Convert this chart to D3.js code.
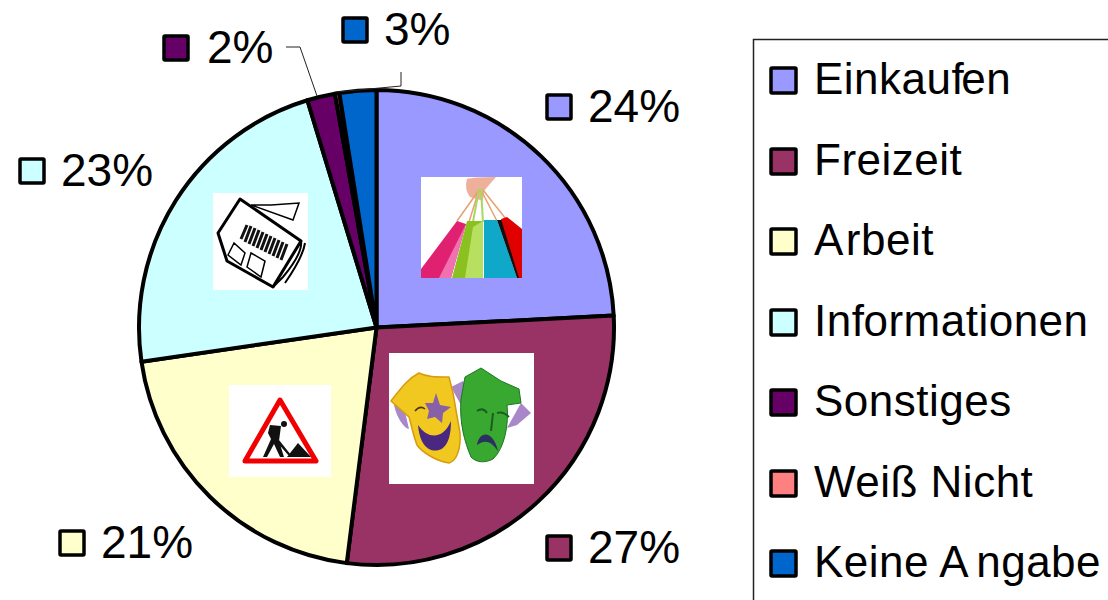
<!DOCTYPE html>
<html><head><meta charset="utf-8">
<script src="https://cdn.jsdelivr.net/npm/d3@7/dist/d3.min.js"></script>
<style>html,body{margin:0;padding:0;background:#fff}svg{display:block}text{font-family:"Liberation Sans",Arial,sans-serif;fill:#000}</style>
</head><body><svg id="c" width="1108" height="600"></svg>
<script>
const categories=["Einkaufen","Freizeit","Arbeit","Informationen","Sonstiges","Weiß Nicht","Keine Angabe"];
const values=[24.2,27.8,20.7,22.6,1.9,0.3,2.5];
const labels=["24%","27%","21%","23%","2%","","3%"];
const colors=["#9999ff","#993366","#ffffcc","#ccffff","#660066","#ff8080","#0066cc"];
const labelAnchors=[[545,93],[545,534],[58,529],[18,157],[162,34],null,[341,16]];
const legendY=[80,161,241,322,402,483,563];

const svg=d3.select("#c");
const cx=376.5,cy=327.5,R=237.5;
const arc=d3.arc().innerRadius(0).outerRadius(R);
const pie=d3.pie().sort(null).value(d=>d)(values);
svg.append("g").attr("transform",`translate(${cx},${cy})`).selectAll("path").data(pie).join("path")
  .attr("d",arc).attr("fill",(d,i)=>colors[i]).attr("stroke","#000").attr("stroke-width",4).attr("stroke-linejoin","round");

// leader lines
const line=d3.line();
svg.append("path").attr("d",line([[286,47],[300,47],[317,96]])).attr("fill","none").attr("stroke","#222").attr("stroke-width",1);
svg.append("path").attr("d",line([[337,92],[401,86],[401,72]])).attr("fill","none").attr("stroke","#222").attr("stroke-width",1);

// data labels
labels.forEach((t,i)=>{
  if(!t)return;
  const [x,y]=labelAnchors[i];
  svg.append("rect").attr("x",x+2).attr("y",y+2).attr("width",24).attr("height",24).attr("rx",1)
    .attr("fill",colors[i]).attr("stroke","#000").attr("stroke-width",3.5);
  svg.append("text").attr("x",x+(i===4?45:43)).attr("y",y+29).attr("font-size",46).text(t);
});

// legend
svg.append("path").attr("d",line([[753.5,600],[753.5,39.5],[1108,39.5]])).attr("fill","none").attr("stroke","#222").attr("stroke-width",1.5);
const legendParts=[["Einkauf","en"],["Freizeit"],["A","rbeit"],["Inf","ormationen"],["Sonstiges"],["Weiß Nicht"],["Keine A","ngabe"]];
const legendGap=[-3,0,2,-1,0,0,7];
categories.forEach((c,i)=>{
  const y=legendY[i];
  svg.append("rect").attr("x",771).attr("y",y-12).attr("width",25).attr("height",25).attr("rx",1)
    .attr("fill",colors[i]).attr("stroke","#000").attr("stroke-width",3.5);
  const t=svg.append("text").attr("x",814).attr("y",y+14).attr("font-size",44).attr("letter-spacing",0.5);
  legendParts[i].forEach((p,k)=>t.append("tspan").attr("dx",k?legendGap[i]:0).text(p));
});

// pictures
function pic(x,y,w,h){return svg.append("g").attr("transform",`translate(${x},${y})`).call(g=>g.append("rect").attr("width",w).attr("height",h).attr("fill","#fff"));}

// shopping bags
const b=pic(421,177,101,101);
b.append("path").attr("d","M46 2 Q52 0 75 0 L68 8 L63 14 L62 24 L56 22 L49 20 Q43 12 46 2Z").attr("fill","#eeb09a");
b.append("path").attr("d","M58 13 L36 44 M58 13 L48 45 M60 13 L76 44 M62 13 L85 42").attr("stroke","#e8a070").attr("stroke-width",1.5).attr("fill","none");
b.append("path").attr("d","M58 12 L52 45 M60 12 L62 45").attr("stroke","#a8d860").attr("stroke-width",2).attr("fill","none");
b.append("path").attr("d","M36 44 L45 47 L30 101 L0 101 L0 92Z").attr("fill","#e02070");
b.append("path").attr("d","M45 47 L30 101 L18 101 Z").attr("fill","#f070b0");
b.append("path").attr("d","M46 44 L62 44 L62 101 L31 101Z").attr("fill","#8ac020");
b.append("path").attr("d","M62 44 L62 101 L44 101 L52 50Z").attr("fill","#b8e060");
b.append("path").attr("d","M63 43 L76 43 L96 101 L63 101Z").attr("fill","#10a8c8");
b.append("path").attr("d","M76 43 L84 43 L101 101 L96 101Z").attr("fill","#111");
b.append("path").attr("d","M80 42 L86 40 L101 52 L101 101 L98 101Z").attr("fill","#e00000");

// theatre masks
const m=pic(389,353,145,131);
m.append("path").attr("d","M5 52 C8 66 16 76 20 76 L14 50Z M62 34 L72 52 L84 42 L74 28Z").attr("fill","#a888c8");
m.append("path").attr("d","M118 75 L128 72 L142 60 L132 50Z").attr("fill","#a888c8");
m.append("path").attr("d","M2 48 C10 38 18 26 30 20 C38 24 46 24 60 24 L64 40 L71 80 C72 95 68 108 60 110 C46 108 32 98 28 92 C24 82 22 70 20 64 Z").attr("fill","#f0c820").attr("stroke","#d89a10").attr("stroke-width",1.5).attr("stroke-linejoin","round");
m.append("path").attr("d","M47 40 L51 52 L62 54 L54 60 L53 70 L46 64 L38 66 L40 58 L36 50 L44 50Z").attr("fill","#8860a8");
m.append("path").attr("d","M29 72 C40 88 55 85 62 68 C62 90 55 100 42 97 C34 94 30 84 29 72Z").attr("fill","#4a2880");
m.append("path").attr("d","M26 58 Q31 52 36 56 ").attr("fill","none").attr("stroke","#503010").attr("stroke-width",1.5);
m.append("path").attr("d","M76 24 L92 15 L112 28 L130 36 L132 50 L118 52 C120 70 116 95 104 106 C96 110 88 110 82 104 C76 90 70 70 72 46 Z").attr("fill","#38a830").attr("stroke","#1c7820").attr("stroke-width",1).attr("stroke-linejoin","round");
m.append("path").attr("d","M88 92 C90 78 104 76 109 98 C102 88 96 86 88 92Z").attr("fill","#2c3060");
m.append("path").attr("d","M88 58 Q94 54 98 60 M108 60 Q114 58 120 64 M104 60 L102 78").attr("fill","none").attr("stroke","#1c5c20").attr("stroke-width",2);

// newspaper
const n=pic(213,193,95,97);
n.append("path").attr("d","M38 12 L80 27 L86 10 L58 12Z").attr("fill","#fff").attr("stroke","#000").attr("stroke-width",1.5);
n.append("path").attr("d","M5 40 L27 6 L88 48 L60 94 L14 68 Z").attr("fill","#fff").attr("stroke","#000").attr("stroke-width",3).attr("stroke-linejoin","round");
n.append("path").attr("d","M34 32 L28 46 M38 33 L32 49 M42 35 L36 51 M46 37 L40 53 M50 39 L44 55 M54 41 L48 57 M58 43 L52 59 M62 45 L56 61 M66 47 L60 63 M70 49 L64 65 M74 51 L68 67").attr("stroke","#111").attr("stroke-width",3).attr("fill","none");
n.append("path").attr("d","M21 50 L15 62 L28 72 L32 60Z M38 60 L34 74 L48 84 L52 68Z").attr("fill","#fff").attr("stroke","#000").attr("stroke-width",1.5);
n.append("path").attr("d","M88 48 Q90 60 70 84 L60 94 M92 50 Q90 64 72 90").attr("fill","none").attr("stroke","#000").attr("stroke-width",2);

// road works sign
const s=pic(229,385,102,92);
s.append("path").attr("d","M51 15 L87 76 L16 76Z").attr("fill","#fff").attr("stroke","#f00000").attr("stroke-width",5).attr("stroke-linejoin","round");
s.append("circle").attr("cx",55).attr("cy",39).attr("r",3).attr("fill","#111");
s.append("path").attr("d","M41 40 L52 41 L50 56 L55 72 L51 72 L45 59 L38 72 L34 72 L42 54 L39 48Z M50 55 L62 70 L60 71 L47 56Z M58 72 L69 58 L82 72Z").attr("fill","#111");
</script></body></html>
